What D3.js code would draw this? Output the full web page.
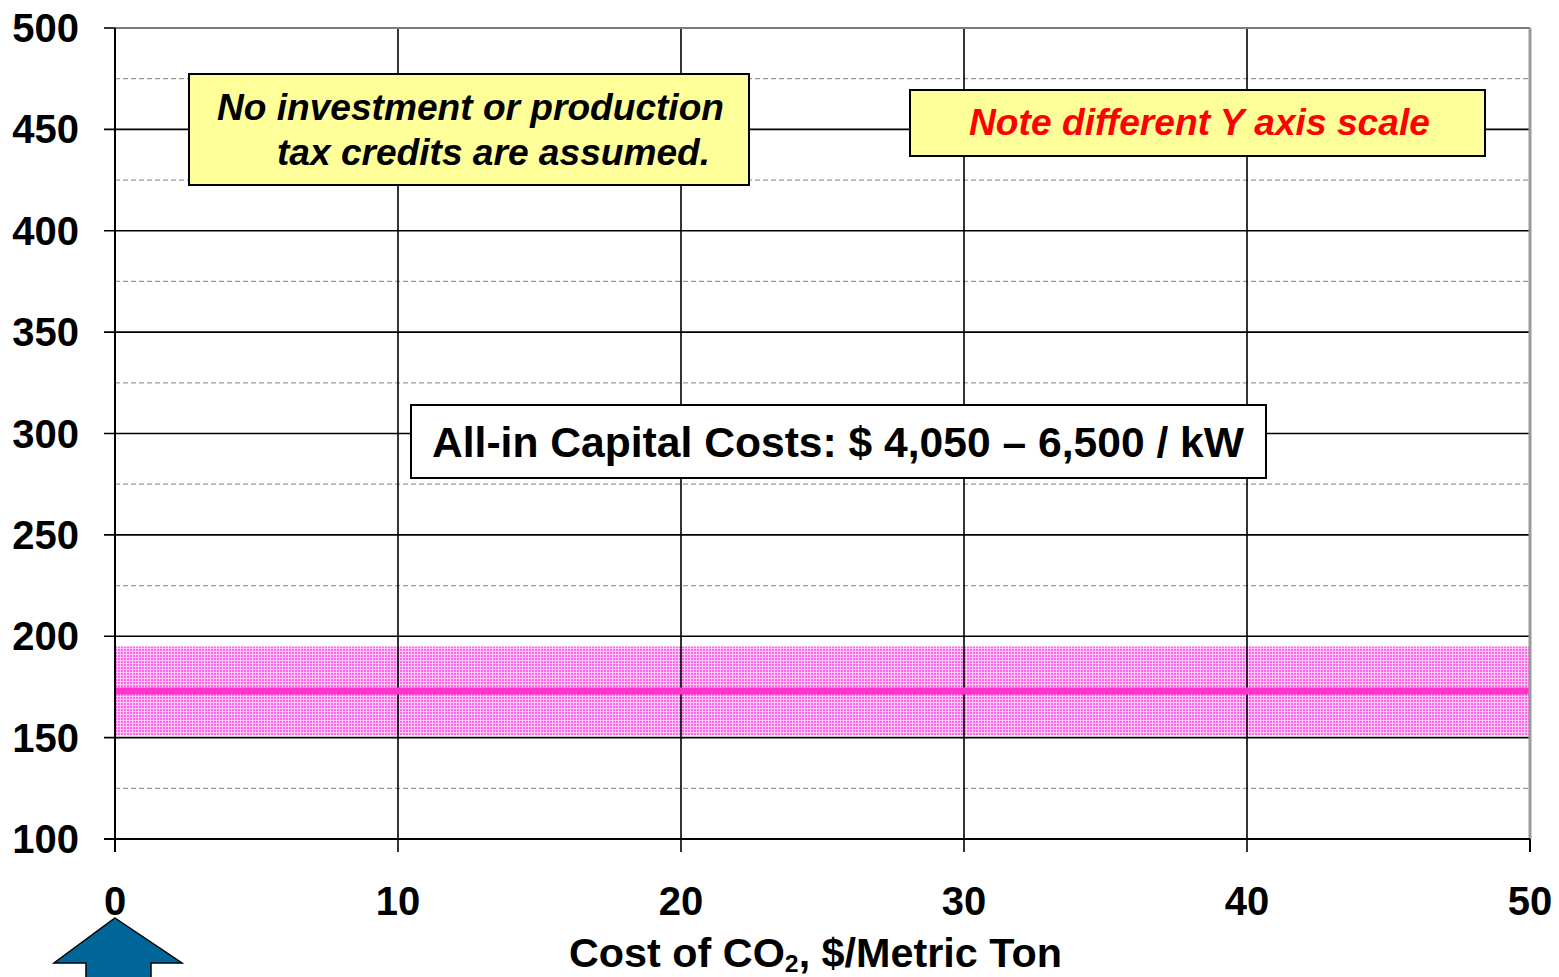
<!DOCTYPE html>
<html>
<head>
<meta charset="utf-8">
<script src="https://cdn.jsdelivr.net/npm/d3@7"></script>
<style>
  html, body { margin: 0; padding: 0; background: #fff; }
  svg { display: block; font-family: "Liberation Sans", Arial, sans-serif; }
</style>
</head>
<body>
<svg id="chart" width="1559" height="977"></svg>
<script>
// Levelized cost band vs. CO2 price
const co2Cost = [0, 50];            // $/metric ton
const costLow = [151, 151];         // lower edge of cost range
const costHigh = [195, 195];        // upper edge of cost range
const costMid = [173, 173];         // reference cost line
const xTickValues = [0, 10, 20, 30, 40, 50];
const yMajorTicks = [100, 150, 200, 250, 300, 350, 400, 450, 500];
const yMinorTicks = [125, 175, 225, 275, 325, 375, 425, 475];
const xTitle = ["Cost of CO", "2", ", $/Metric Ton"];
const capitalNote = "All-in Capital Costs: $ 4,050 \u2013 6,500 / kW";
const creditNote = ["No investment or production", "tax credits are assumed."];
const scaleNote = "Note different Y axis scale";

const svg = d3.select("#chart");
const plotLeft = 115, plotRight = 1530, plotTop = 28, plotBottom = 839;

const x = d3.scaleLinear().domain([0, 50]).range([plotLeft, plotRight]);
const y = d3.scaleLinear().domain([100, 500]).range([plotBottom, plotTop]);

// fine grid texture for the range band
const defs = svg.append("defs");
const pat = defs.append("pattern")
  .attr("id", "pinkTex").attr("patternUnits", "userSpaceOnUse")
  .attr("width", 3).attr("height", 3)
  .attr("shape-rendering", "crispEdges");
pat.append("rect").attr("width", 3).attr("height", 3).attr("fill", "#ff66ec");
pat.append("rect").attr("x", 0).attr("y", 0).attr("width", 3).attr("height", 1).attr("fill", "#ffc8f8");
pat.append("rect").attr("x", 0).attr("y", 0).attr("width", 1).attr("height", 3).attr("fill", "#ffc8f8");

// minor dashed gridlines
svg.append("g").selectAll("line").data(yMinorTicks).join("line")
  .attr("x1", plotLeft).attr("x2", plotRight)
  .attr("y1", d => y(d)).attr("y2", d => y(d))
  .attr("stroke", "#9a9a9a").attr("stroke-width", 1.2)
  .attr("stroke-dasharray", "5,3");

// major horizontal gridlines + ticks
svg.append("g").selectAll("line").data(yMajorTicks.filter(d => d !== 500)).join("line")
  .attr("x1", plotLeft - 11).attr("x2", plotRight)
  .attr("y1", d => y(d)).attr("y2", d => y(d))
  .attr("stroke", "#000").attr("stroke-width", 1.6);

// range band
const area = d3.area()
  .x((d, i) => x(co2Cost[i]))
  .y0((d, i) => y(costLow[i]))
  .y1((d, i) => y(costHigh[i]));
svg.append("path").datum(co2Cost).attr("d", area).attr("fill", "url(#pinkTex)");

// vertical gridlines + ticks
svg.append("g").selectAll("line").data(xTickValues).join("line")
  .attr("x1", d => x(d)).attr("x2", d => x(d))
  .attr("y1", plotTop).attr("y2", plotBottom + 13)
  .attr("stroke", "#000").attr("stroke-width", 1.6);

// mid cost line
const line = d3.line().x((d, i) => x(co2Cost[i])).y((d, i) => y(costMid[i]));
svg.append("path").datum(co2Cost).attr("d", line)
  .attr("stroke", "#ff33cc").attr("stroke-width", 7).attr("fill", "none");

// frame
svg.append("line").attr("x1", plotLeft).attr("x2", plotRight).attr("y1", plotTop).attr("y2", plotTop)
  .attr("stroke", "#7a7a7a").attr("stroke-width", 2);
svg.append("line").attr("x1", plotLeft - 11).attr("x2", plotLeft).attr("y1", plotTop).attr("y2", plotTop)
  .attr("stroke", "#000").attr("stroke-width", 1.6);
svg.append("line").attr("x1", plotRight).attr("x2", plotRight).attr("y1", plotTop).attr("y2", plotBottom)
  .attr("stroke", "#9a9a9a").attr("stroke-width", 3);
svg.append("line").attr("x1", plotLeft).attr("x2", plotLeft).attr("y1", plotTop).attr("y2", plotBottom + 13)
  .attr("stroke", "#000").attr("stroke-width", 2);
svg.append("line").attr("x1", plotLeft - 11).attr("x2", plotRight).attr("y1", plotBottom).attr("y2", plotBottom)
  .attr("stroke", "#000").attr("stroke-width", 2);
svg.append("line").attr("x1", plotRight).attr("x2", plotRight).attr("y1", plotBottom).attr("y2", plotBottom + 13)
  .attr("stroke", "#000").attr("stroke-width", 2);

// tick labels
svg.append("g").selectAll("text").data(yMajorTicks).join("text")
  .attr("x", 79).attr("y", d => y(d) + 14)
  .attr("text-anchor", "end").attr("font-size", 40).attr("font-weight", "bold")
  .text(d => d);
svg.append("g").selectAll("text").data(xTickValues).join("text")
  .attr("x", d => x(d)).attr("y", 915)
  .attr("text-anchor", "middle").attr("font-size", 40).attr("font-weight", "bold")
  .text(d => d);

// axis title with subscript
const tt = svg.append("text").attr("x", 569).attr("y", 967)
  .attr("font-size", 40).attr("font-weight", "bold")
  .attr("textLength", 493).attr("lengthAdjust", "spacingAndGlyphs");
tt.append("tspan").text(xTitle[0]);
tt.append("tspan").attr("font-size", 24).attr("dy", 5).text(xTitle[1]);
tt.append("tspan").attr("dy", -5).text(xTitle[2]);

// credits note box
svg.append("rect").attr("x", 189).attr("y", 74).attr("width", 560).attr("height", 111)
  .attr("fill", "#ffff99").attr("stroke", "#000").attr("stroke-width", 2);
svg.append("text").attr("x", 217).attr("y", 120)
  .attr("font-size", 37).attr("font-weight", "bold").attr("font-style", "italic")
  .attr("textLength", 507).attr("lengthAdjust", "spacingAndGlyphs")
  .text(creditNote[0]);
svg.append("text").attr("x", 277).attr("y", 165)
  .attr("font-size", 37).attr("font-weight", "bold").attr("font-style", "italic")
  .attr("textLength", 433).attr("lengthAdjust", "spacingAndGlyphs")
  .text(creditNote[1]);

// scale note box
svg.append("rect").attr("x", 910).attr("y", 90).attr("width", 575).attr("height", 66)
  .attr("fill", "#ffff99").attr("stroke", "#000").attr("stroke-width", 2);
svg.append("text").attr("x", 969).attr("y", 135)
  .attr("font-size", 37).attr("font-weight", "bold").attr("font-style", "italic")
  .attr("fill", "#ff0000")
  .attr("textLength", 461).attr("lengthAdjust", "spacingAndGlyphs")
  .text(scaleNote);

// capital cost box
svg.append("rect").attr("x", 411).attr("y", 405).attr("width", 855).attr("height", 73)
  .attr("fill", "#fff").attr("stroke", "#000").attr("stroke-width", 2);
svg.append("text").attr("x", 432).attr("y", 457)
  .attr("font-size", 43).attr("font-weight", "bold")
  .attr("textLength", 812).attr("lengthAdjust", "spacingAndGlyphs")
  .text(capitalNote);

// arrow pointing at zero CO2 cost
const ax = x(0);
const arrowPts = [
  [ax, 918], [ax + 67, 963], [ax + 36, 963], [ax + 36, 985],
  [ax - 29, 985], [ax - 29, 963], [ax - 61, 963]
];
svg.append("polygon").attr("points", arrowPts.map(p => p.join(",")).join(" "))
  .attr("fill", "#006699").attr("stroke", "#000").attr("stroke-width", 1.5);
</script>
</body>
</html>
